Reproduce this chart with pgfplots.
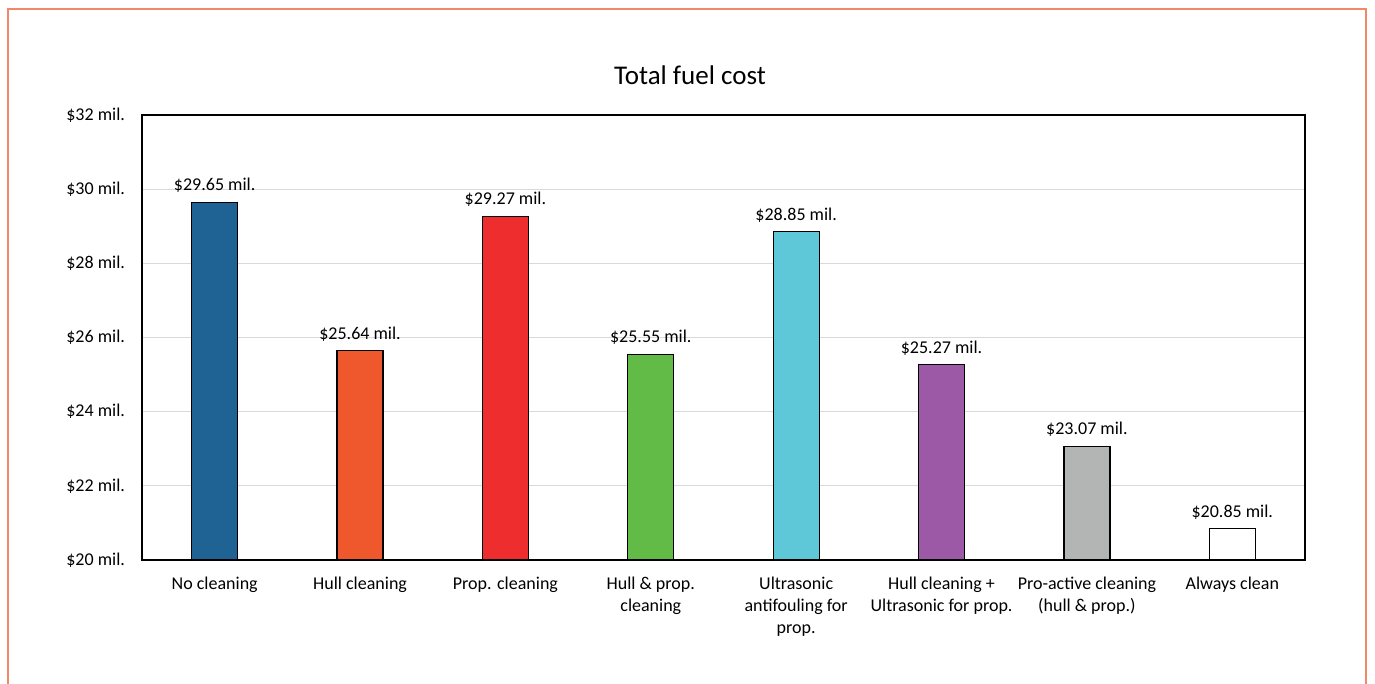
\documentclass[border=0pt]{standalone}
\usepackage{pgfplots}
\pgfplotsset{compat=1.18}
\usepackage{fontspec}
\setmainfont{Carlito}
\definecolor{cA}{HTML}{1F6395}
\definecolor{cB}{HTML}{EE582C}
\definecolor{cC}{HTML}{EE2E2E}
\definecolor{cD}{HTML}{62BB47}
\definecolor{cE}{HTML}{5EC8D8}
\definecolor{cF}{HTML}{9C59A6}
\definecolor{cG}{HTML}{B2B5B4}
\definecolor{cH}{HTML}{FFFFFF}
\definecolor{frameorange}{HTML}{F3876A}
\definecolor{gridgray}{HTML}{D9D9D9}
\begin{document}
\begin{tikzpicture}
\path[use as bounding box] (0pt,0pt) rectangle (687.5pt,342pt);
\draw[frameorange, line width=1pt] (3.9pt,0pt) -- (3.9pt,337.5pt) -- (683pt,337.5pt) -- (683pt,0pt);
\node[font=\fontsize{13.5}{16}\selectfont] at (345pt,304.5pt) {Total fuel cost};
\begin{axis}[
  at={(71pt,62pt)}, anchor=south west,
  scale only axis, width=581.5pt, height=222.5pt,
  xmin=-0.5, xmax=7.5, ymin=20, ymax=32,
  ytick={20,22,...,32},
  xtick={0,...,7},
  xticklabels={No cleaning, Hull cleaning, Prop. cleaning, {Hull \& prop.\\cleaning}, {Ultrasonic\\antifouling for\\prop.}, {Hull cleaning +\\Ultrasonic for prop.}, {Pro-active cleaning\\(hull \& prop.)}, Always clean},
  x tick label style={align=center, font=\fontsize{9}{11}\selectfont, yshift=-5pt},
  y tick label style={font=\fontsize{9}{11}\selectfont, xshift=-5pt},
  yticklabel={\$\pgfmathprintnumber{\tick}~mil.},
  /pgf/number format/assume math mode=true,
  major tick length=0pt,
  ymajorgrids, grid style={gridgray, line width=0.6pt},
  axis line style={black, line width=0.8pt},
  ybar, bar width=23pt, bar shift=0pt,
  nodes near coords={\$\pgfmathprintnumber[fixed,precision=2,fixed zerofill]{\pgfplotspointmeta}~mil.},
  nodes near coords style={font=\fontsize{9}{11}\selectfont, /pgf/number format/assume math mode=true, yshift=1pt},
  every axis plot/.append style={draw=black, line width=0.6pt},
]
\addplot[fill=cA] coordinates {(0,29.65)};
\addplot[fill=cB] coordinates {(1,25.64)};
\addplot[fill=cC] coordinates {(2,29.27)};
\addplot[fill=cD] coordinates {(3,25.55)};
\addplot[fill=cE] coordinates {(4,28.85)};
\addplot[fill=cF] coordinates {(5,25.27)};
\addplot[fill=cG] coordinates {(6,23.07)};
\addplot[fill=cH] coordinates {(7,20.85)};
\end{axis}
\end{tikzpicture}
\end{document}
